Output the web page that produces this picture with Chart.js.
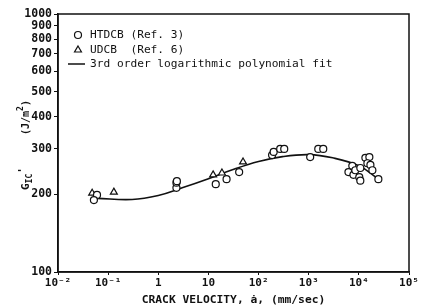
<!DOCTYPE html>
<html>
<head>
<meta charset="utf-8">
<script src="https://cdn.jsdelivr.net/npm/chart.js@4.4.0/dist/chart.umd.min.js"></script>
<style>
  html, body { margin: 0; padding: 0; background: #fff; }
  #wrap { width: 424px; height: 307px; }
</style>
</head>
<body>
<div id="wrap"><canvas id="chart"></canvas></div>
<script>
// HTDCB (Ref. 3) - crack velocity (mm/sec) and G_IC (J/m^2)
const htdcbX = [0.06, 0.052, 2.3, 2.3, 2.35, 14, 23, 41, 186, 200, 270, 325, 1070, 1550, 1950,
  6200, 7400, 7800, 8500, 10200, 10700, 10700, 13500, 16200, 14800, 17000, 18600, 24500];
const htdcbY = [199, 190, 212, 222, 225, 219, 229, 244, 284, 292, 300, 300, 279, 300, 300,
  244, 258, 238, 248, 233, 226, 253, 277, 279, 264, 260, 248, 229];

// UDCB (Ref. 6)
const udcbX = [0.048, 0.13, 12.4, 18.6, 49];
const udcbY = [202, 204, 238, 242, 267];

// 3rd order logarithmic polynomial fit
const fitX = [0.06, 0.3, 1, 3, 10, 30, 100, 300, 1000, 3000, 10000, 24000];
const fitY = [193, 191, 198, 212, 230, 249, 268, 280, 285, 277, 258, 230];

// Axis ticks
const xTicks = [0.01, 0.1, 1, 10, 100, 1000, 10000, 100000];
const xTickLabels = ['10\u207B\u00B2', '10\u207B\u00B9', '1', '10', '10\u00B2', '10\u00B3', '10\u2074', '10\u2075'];
const yTicks = [100, 200, 300, 400, 500, 600, 700, 800, 900, 1000];
const yTickLabels = ['100', '200', '300', '400', '500', '600', '700', '800', '900', '1000'];

const ink = '#111';
const mono = '"DejaVu Sans Mono", "Liberation Mono", monospace';

/**
 * Zips two arrays into {x, y} points
 */
function toPoints(xs, ys) {
  return xs.map((x, i) => ({ x, y: ys[i] }));
}

// Frame around the plot area
const framePlugin = {
  id: 'frame',
  afterDraw(chart) {
    const { ctx, chartArea: a } = chart;
    ctx.save();
    ctx.strokeStyle = ink;
    ctx.lineWidth = 1.5;
    ctx.strokeRect(a.left, a.top, a.right - a.left, a.bottom - a.top);
    ctx.restore();
  },
};

// Legend drawn inside the plot, top left
const legendPlugin = {
  id: 'innerLegend',
  afterDraw(chart) {
    const { ctx } = chart;
    const x0 = 78;
    const rows = [35, 50, 64];
    ctx.save();
    ctx.fillStyle = ink;
    ctx.strokeStyle = ink;
    ctx.font = '11.2px ' + mono;
    ctx.textBaseline = 'middle';

    ctx.lineWidth = 1.2;
    ctx.fillStyle = '#fff';
    Chart.helpers.drawPoint(ctx, { pointStyle: 'circle', radius: 3.5, borderWidth: 1.2 }, x0, rows[0]);
    Chart.helpers.drawPoint(ctx, { pointStyle: 'triangle', radius: 4, borderWidth: 1.2 }, x0, rows[1]);
    ctx.beginPath();
    ctx.lineWidth = 1.5;
    ctx.moveTo(68, rows[2]);
    ctx.lineTo(85, rows[2]);
    ctx.stroke();

    ctx.fillStyle = ink;
    ctx.fillText('HTDCB (Ref. 3)', 90, rows[0]);
    ctx.fillText('UDCB  (Ref. 6)', 90, rows[1]);
    ctx.fillText('3rd order logarithmic polynomial fit', 90, rows[2]);
    ctx.restore();
  },
};

// Rotated y axis title with sub- and superscripts
const yTitlePlugin = {
  id: 'yTitle',
  afterDraw(chart) {
    const { ctx } = chart;
    ctx.save();
    ctx.translate(29, 0);
    ctx.rotate(-Math.PI / 2);
    ctx.fillStyle = ink;
    ctx.textBaseline = 'alphabetic';
    let x = -190;
    ctx.font = 'bold 11px ' + mono;
    ctx.fillText('G', x, 0);
    x += ctx.measureText('G').width;
    ctx.font = 'bold 8px ' + mono;
    ctx.fillText('IC', x, 3);
    x += ctx.measureText('IC').width;
    ctx.font = 'bold 11px ' + mono;
    ctx.fillText("'", x, -3);

    x = -135;
    ctx.font = 'bold 10px ' + mono;
    ctx.fillText('(J/m', x, 0);
    x += ctx.measureText('(J/m').width;
    ctx.font = 'bold 8px ' + mono;
    ctx.fillText('2', x, -6);
    x += ctx.measureText('2').width;
    ctx.font = 'bold 10px ' + mono;
    ctx.fillText(')', x, 0);
    ctx.restore();
  },
};

const canvas = document.getElementById('chart');
new Chart(canvas.getContext('2d'), {
  type: 'scatter',
  data: {
    datasets: [
      {
        label: 'HTDCB (Ref. 3)',
        data: toPoints(htdcbX, htdcbY),
        pointStyle: 'circle',
        pointRadius: 3.5,
        backgroundColor: '#fff',
        borderColor: ink,
        borderWidth: 1.2,
        order: 1,
      },
      {
        label: 'UDCB (Ref. 6)',
        data: toPoints(udcbX, udcbY),
        pointStyle: 'triangle',
        pointRadius: 4,
        backgroundColor: '#fff',
        borderColor: ink,
        borderWidth: 1.2,
        order: 1,
      },
      {
        label: '3rd order logarithmic polynomial fit',
        data: toPoints(fitX, fitY),
        showLine: true,
        pointRadius: 0,
        borderColor: ink,
        borderWidth: 1.6,
        tension: 0.4,
        order: 2,
      },
    ],
  },
  options: {
    responsive: true,
    maintainAspectRatio: false,
    animation: false,
    layout: { padding: { top: 14, right: 15, left: 0, bottom: 0 } },
    plugins: {
      legend: { display: false },
      tooltip: { enabled: false },
    },
    scales: {
      x: {
        type: 'logarithmic',
        min: 0.01,
        max: 100000,
        afterBuildTicks: (s) => { s.ticks = xTicks.map((v) => ({ value: v })); },
        afterFit: (s) => { s.height = 35; },
        ticks: {
          callback: (v) => xTickLabels[xTicks.indexOf(v)],
          color: ink,
          font: { family: mono, size: 11, weight: 'bold' },
          maxRotation: 0,
          padding: 2,
        },
        grid: { drawOnChartArea: false, tickLength: 3, color: ink },
        border: { color: ink, width: 1.5 },
        title: {
          display: true,
          text: 'CRACK VELOCITY, \u0227, (mm/sec)',
          color: ink,
          font: { family: mono, size: 11.3, weight: 'bold' },
          padding: { top: 0, bottom: 0 },
        },
      },
      y: {
        type: 'logarithmic',
        min: 100,
        max: 1000,
        afterBuildTicks: (s) => { s.ticks = yTicks.map((v) => ({ value: v })); },
        afterFit: (s) => { s.width = 58; },
        ticks: {
          callback: (v) => yTickLabels[yTicks.indexOf(v)],
          color: ink,
          font: { family: mono, size: 11.5, weight: 'bold' },
          padding: 2,
        },
        grid: { drawOnChartArea: false, tickLength: 4, color: ink },
        border: { color: ink, width: 1.5 },
      },
    },
  },
  plugins: [framePlugin, legendPlugin, yTitlePlugin],
});
</script>
</body>
</html>
